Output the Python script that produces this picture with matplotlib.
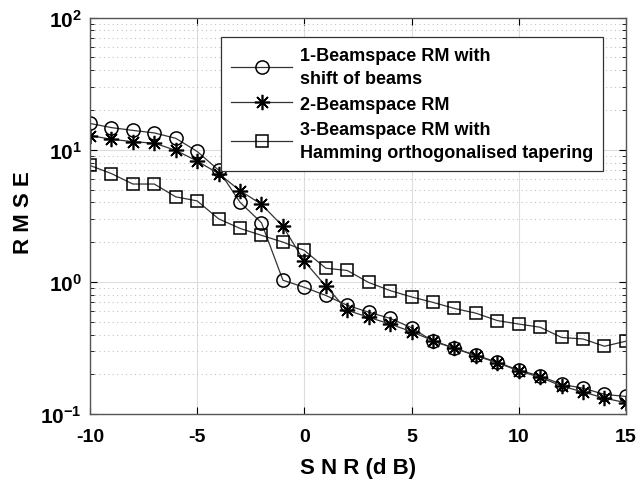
import math
import matplotlib
matplotlib.use("Agg")
import matplotlib.pyplot as plt
from matplotlib.ticker import FixedLocator, FuncFormatter, LogLocator, NullFormatter

plt.rcParams['font.family'] = ['Liberation Sans', 'DejaVu Sans']
plt.rcParams['mathtext.fontset'] = 'custom'
plt.rcParams['mathtext.rm'] = 'Liberation Sans'
plt.rcParams['mathtext.bf'] = 'Liberation Sans:bold'

snr = list(range(-10, 16))
rmse_shift = [15.8, 14.7, 14.0, 13.4, 12.2, 9.7, 7.0, 4.0, 2.8, 1.03, 0.91, 0.79, 0.665,
              0.59, 0.53, 0.45, 0.356, 0.315, 0.279, 0.247, 0.215, 0.194, 0.168, 0.157, 0.141, 0.136]
rmse_bs = [12.8, 12.0, 11.5, 11.2, 9.9, 8.2, 6.6, 4.9, 3.86, 2.63, 1.43, 0.93, 0.61,
           0.54, 0.48, 0.42, 0.36, 0.315, 0.276, 0.245, 0.212, 0.19, 0.163, 0.147, 0.132, 0.122]
rmse_ham = [7.6, 6.6, 5.5, 5.5, 4.4, 4.1, 3.0, 2.54, 2.25, 2.0, 1.73, 1.27, 1.22,
            0.99, 0.86, 0.77, 0.70, 0.63, 0.58, 0.51, 0.48, 0.454, 0.38, 0.37, 0.326, 0.356]
labels = ["1-Beamspace RM with\nshift of beams",
          "2-Beamspace RM",
          "3-Beamspace RM with\nHamming orthogonalised tapering"]
xticks = [-10, -5, 0, 5, 10, 15]
yticks = [0.1, 1, 10, 100]

fig = plt.figure(figsize=(6.4, 4.81), dpi=100)
ax = fig.add_axes([0.1406, 0.137, 0.978 - 0.1406, 0.9615 - 0.137])

lc = '#333333'
ax.plot(snr, rmse_shift, color=lc, lw=0.9, marker='o', ms=9.5, mfc='none', mec='black', mew=1.1, label=labels[0])
ax.plot(snr, rmse_bs, color=lc, lw=0.9, marker=(8, 2, 0), ms=11, mec='black', mew=1.2, label=labels[1])
ax.plot(snr, rmse_ham, color=lc, lw=0.9, marker='s', ms=9, mfc='none', mec='black', mew=1.1, label=labels[2])

ax.set_yscale('log')
ax.set_xlim(-10, 15)
ax.set_ylim(0.1, 100)
ax.xaxis.set_major_locator(FixedLocator(xticks))
ax.yaxis.set_major_locator(FixedLocator(yticks))
ax.yaxis.set_minor_locator(LogLocator(base=10, subs=range(2, 10)))
ax.yaxis.set_minor_formatter(NullFormatter())
ax.yaxis.set_major_formatter(FuncFormatter(lambda v, p: r'$\mathbf{10^{%d}}$' % round(math.log10(v))))
ax.xaxis.set_major_formatter(FuncFormatter(lambda v, p: '%d' % v))

ax.grid(True, which='major', color='#dddddd', lw=0.8, ls='-')
ax.grid(True, which='minor', axis='y', color='#c4c4c4', lw=0.8, ls=(0, (1, 3)))
ax.set_axisbelow(True)

ax.tick_params(which='both', direction='in', top=True, right=True)
ax.tick_params(axis='x', labelsize=14, pad=10)
ax.tick_params(axis='y', labelsize=15, pad=6)
ax.tick_params(which='major', length=5)
ax.tick_params(which='minor', length=3)
for lab in ax.get_xticklabels():
    lab.set_fontweight('bold')
for s in ax.spines.values():
    s.set_color('#555555')
    s.set_linewidth(1.0)

ax.set_xlabel('S N R (d B)', fontsize=16, fontweight='bold', labelpad=9)
ax.set_ylabel('R M S E', fontsize=16, fontweight='bold')
ax.yaxis.set_label_coords(-0.105, 0.51)

leg = ax.legend(loc='upper right', bbox_to_anchor=(0.957, 0.951), prop={'weight': 'bold', 'size': 13},
                handlelength=3.4, fancybox=False, framealpha=1, edgecolor='#333333',
                borderpad=0.55, labelspacing=0.45, handletextpad=0.4, borderaxespad=0)
leg.get_frame().set_linewidth(0.9)
for t in leg.get_texts():
    t.set_linespacing(1.5)

fig.savefig('out.png', dpi=100)
